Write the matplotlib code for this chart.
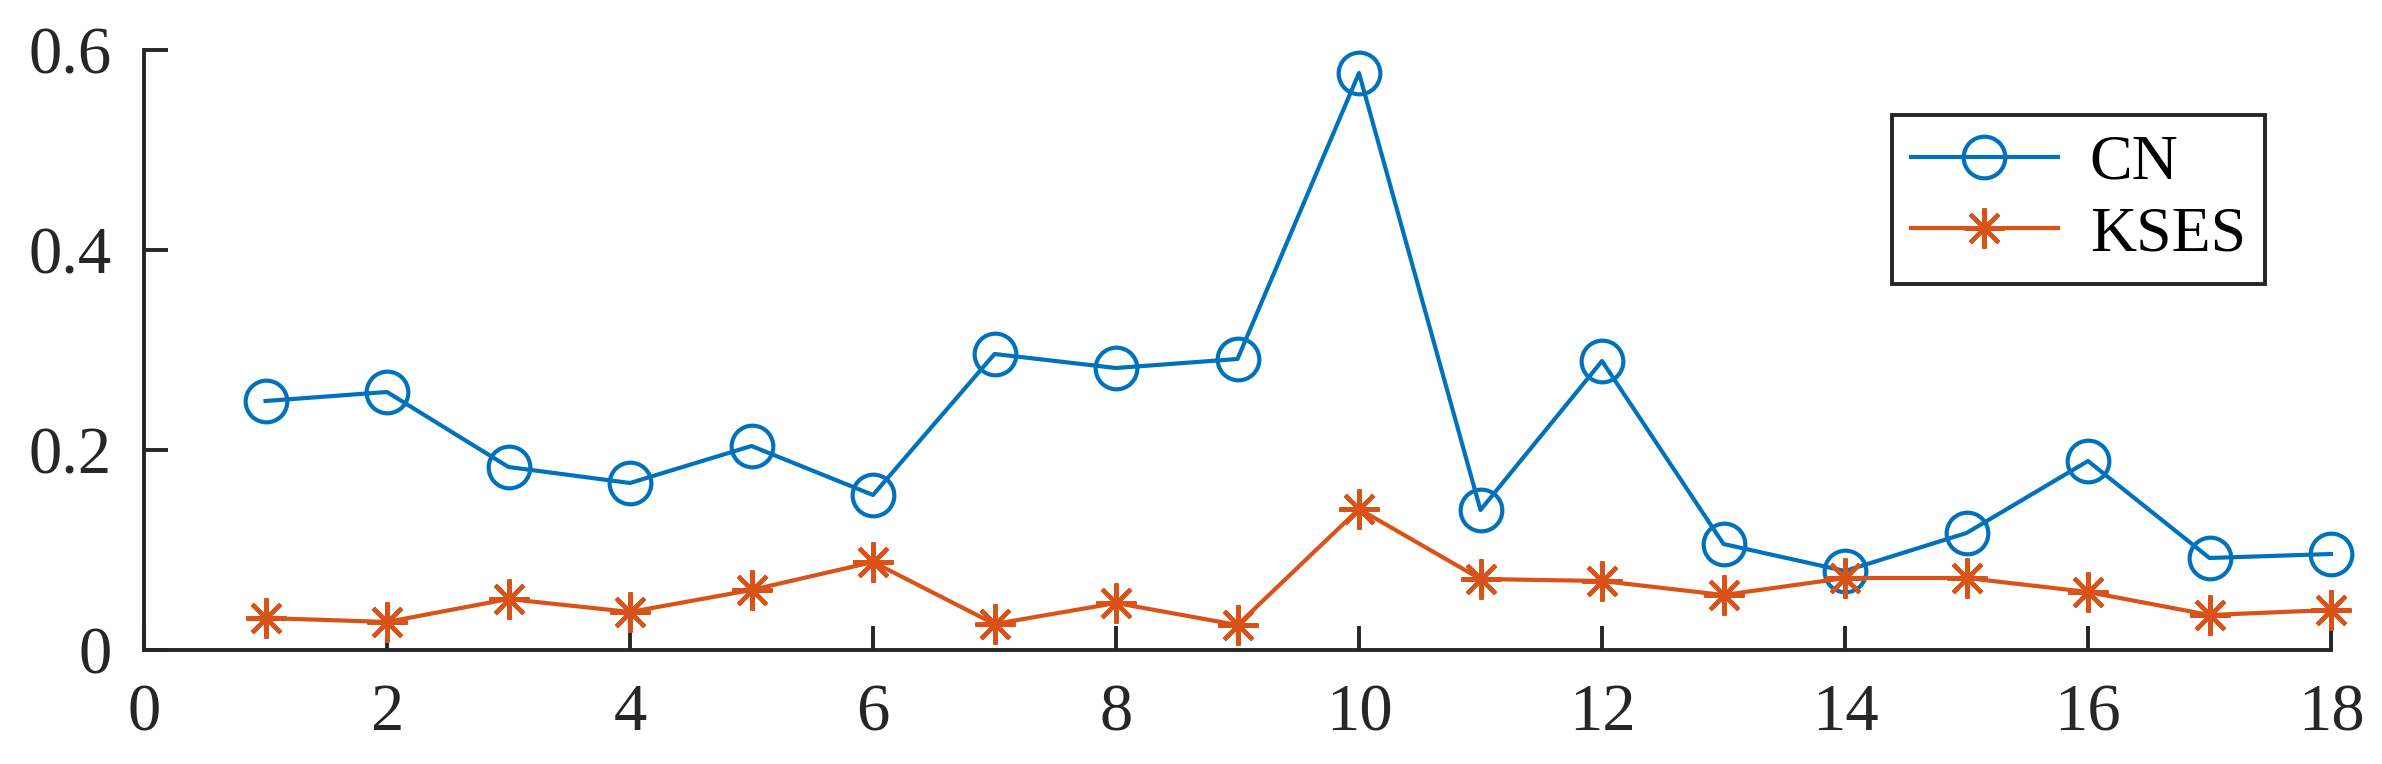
import matplotlib
matplotlib.use("Agg")
import matplotlib.pyplot as plt

x = list(range(1, 19))
cn = [0.249, 0.258, 0.183, 0.167, 0.204, 0.155, 0.296, 0.282, 0.291,
      0.577, 0.140, 0.289, 0.106, 0.079, 0.117, 0.189, 0.092, 0.096]
kses = [0.032, 0.028, 0.051, 0.038, 0.060, 0.088, 0.026, 0.047, 0.025,
        0.141, 0.071, 0.069, 0.055, 0.072, 0.072, 0.058, 0.035, 0.040]
labels = ["CN", "KSES"]
xticks = [0, 2, 4, 6, 8, 10, 12, 14, 16, 18]
yticks = [0, 0.2, 0.4, 0.6]
ytick_labels = ["0", "0.2", "0.4", "0.6"]

plt.rcParams['font.family'] = ['Liberation Serif', 'DejaVu Serif']

fig = plt.figure(figsize=(23.82, 7.64), dpi=100)
ax = fig.add_axes([144 / 2382, 1 - 650 / 764, (2331 - 144) / 2382, 600 / 764])

ax.plot(x, cn, color='#0072BD', lw=3.0, marker='o', markersize=30,
        markerfacecolor='none', markeredgewidth=3.0, label=labels[0],
        clip_on=False)
ax.plot(x, kses, color='#D95319', lw=3.0, marker=(8, 2, 0), markersize=29,
        markeredgewidth=3.0, label=labels[1], clip_on=False)

ax.set_xlim(0, 18)
ax.set_ylim(0, 0.6)
ax.set_xticks(xticks)
ax.set_yticks(yticks)
ax.set_yticklabels(ytick_labels)

for s in ['top', 'right']:
    ax.spines[s].set_visible(False)
for s in ['left', 'bottom']:
    ax.spines[s].set_color('#262626')
    ax.spines[s].set_linewidth(2.8)

ax.tick_params(axis='both', direction='in', length=17, width=2.8,
               color='#262626', labelcolor='#262626', labelsize=48)
ax.tick_params(axis='y', pad=23)
ax.tick_params(axis='x', pad=24)

leg = ax.legend(loc='upper right', bbox_to_anchor=(0.9698, 0.8917),
                borderaxespad=0, fontsize=46, handlelength=2.3,
                fancybox=False, frameon=True, borderpad=0.3,
                labelspacing=0.2, handletextpad=0.5, framealpha=1)
leg.get_frame().set_edgecolor('#262626')
leg.get_frame().set_linewidth(2.8)
for t in leg.get_texts():
    t.set_color('black')

fig.savefig('out.png', dpi=100)
